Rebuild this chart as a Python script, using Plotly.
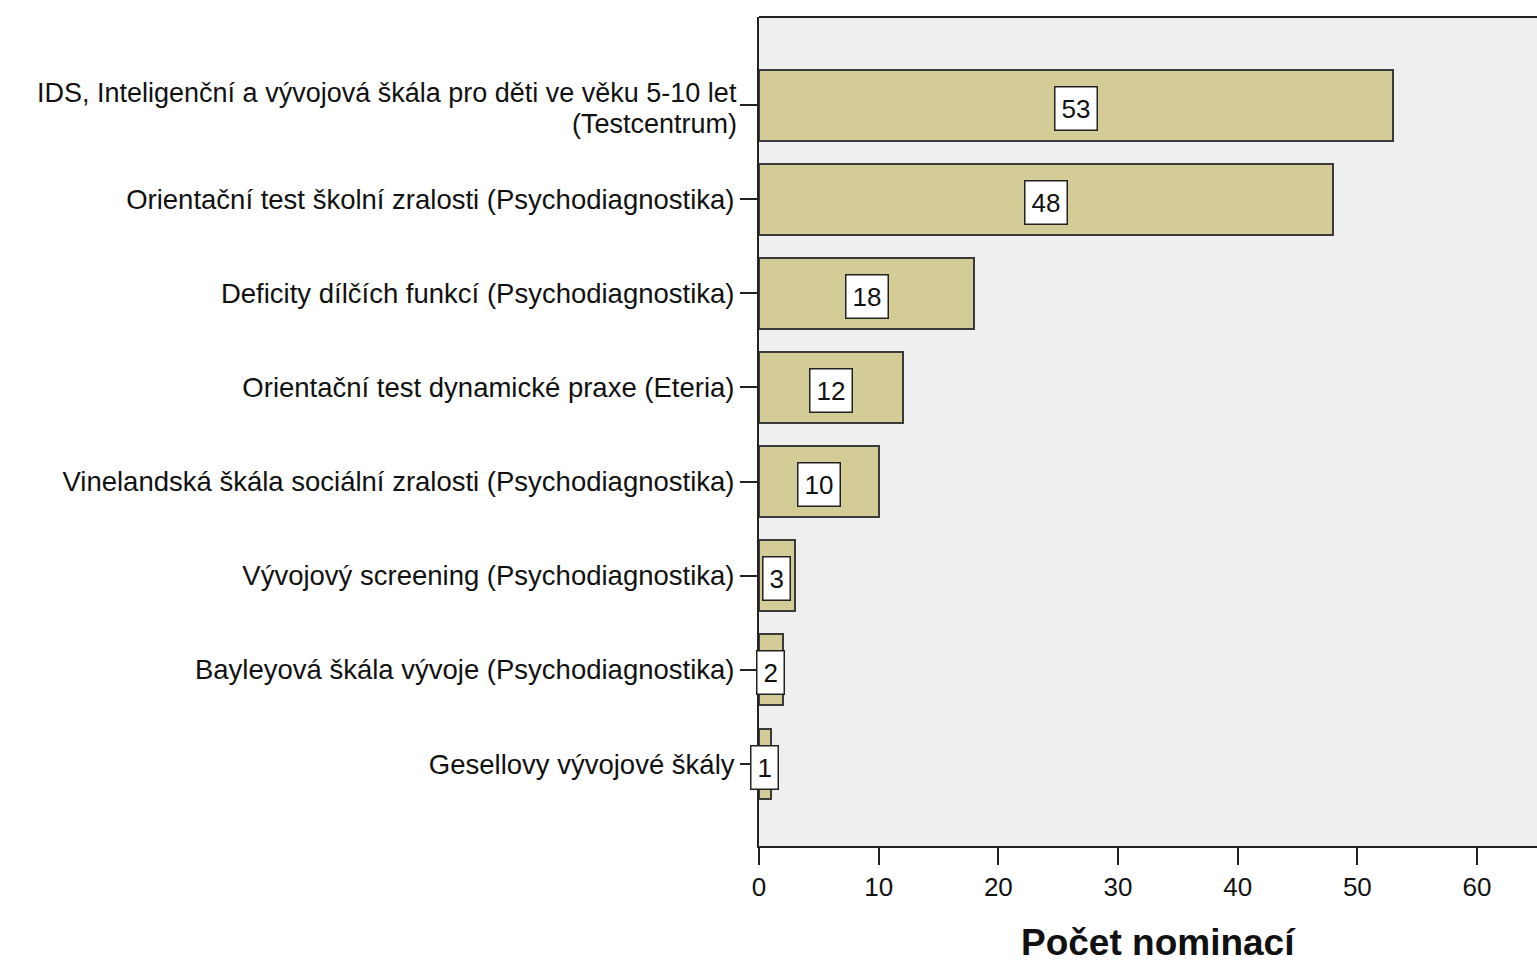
import plotly.graph_objects as go

categories = [
    "IDS, Inteligenční a vývojová škála pro děti ve věku 5-10 let (Testcentrum)",
    "Orientační test školní zralosti (Psychodiagnostika)",
    "Deficity dílčích funkcí (Psychodiagnostika)",
    "Orientační test dynamické praxe (Eteria)",
    "Vinelandská škála sociální zralosti (Psychodiagnostika)",
    "Vývojový screening (Psychodiagnostika)",
    "Bayleyová škála vývoje (Psychodiagnostika)",
    "Gesellovy vývojové škály",
]
counts = [53, 48, 18, 12, 10, 3, 2, 1]
x_ticks = [0, 10, 20, 30, 40, 50, 60]

# long category name is wrapped over two lines
wrapped = {0: ("IDS, Inteligenční a vývojová škála pro děti ve věku 5-10 let", "(Testcentrum)")}

W, H = 1537, 962
ml, mt, mb, mr = 759, 17, 116, 0
font = "Liberation Sans, Arial, sans-serif"
label_size = 27.5

fig = go.Figure()
fig.add_trace(go.Bar(
    x=counts,
    y=list(range(len(categories))),
    orientation="h",
    width=0.754,
    marker=dict(color="#D3CC96", line=dict(color="#3a3a3a", width=2)),
    hoverinfo="skip",
))

# value labels in white boxes at the middle of each bar
for i, v in enumerate(counts):
    fig.add_annotation(
        x=v / 2, y=i, xref="x", yref="y", yshift=-3,
        text=str(v), showarrow=False,
        font=dict(family=font, size=26, color="#111"),
        bgcolor="white", bordercolor="#222", borderwidth=1.5, borderpad=6,
    )

# two-line category label with tight line spacing
for i, (l1, l2) in wrapped.items():
    for txt, dy in ((l1, -0.13), (l2, 0.2)):
        fig.add_annotation(
            x=0, y=i + dy, xref="paper", yref="y", xanchor="right", yanchor="middle",
            xshift=-20, text=txt, showarrow=False,
            font=dict(family=font, size=27, color="#111"),
        )

fig.add_annotation(
    x=(1158 - ml) / (W - ml - mr), y=(H - mb - 943) / (H - mt - mb),
    xref="paper", yref="paper", xanchor="center", yanchor="middle",
    text="<b>Počet nominací</b>", showarrow=False,
    font=dict(family=font, size=37, color="#111"),
)

ticktext = ["" if i in wrapped else c for i, c in enumerate(categories)]

fig.update_layout(
    width=W, height=H,
    margin=dict(l=ml, r=mr, t=mt, b=mb, pad=0),
    paper_bgcolor="white",
    plot_bgcolor="#EFEFEF",
    showlegend=False,
    bargap=0,
    xaxis=dict(
        range=[0, (W - ml - mr) / 11.967],
        tickvals=x_ticks, ticktext=[str(t) for t in x_ticks],
        ticks="outside", ticklen=17, tickwidth=2, tickcolor="#222",
        showline=True, linecolor="#222", linewidth=2,
        showgrid=False, zeroline=False,
        tickfont=dict(family=font, size=26, color="#111"),
        fixedrange=True,
    ),
    yaxis=dict(
        range=[7.871, -0.935],
        tickvals=list(range(len(categories))), ticktext=ticktext,
        ticks="outside", ticklen=17, tickwidth=2, tickcolor="#222",
        showline=True, linecolor="#222", linewidth=2,
        showgrid=False, zeroline=False,
        tickfont=dict(family=font, size=label_size, color="#111"),
        fixedrange=True,
    ),
)

# top frame line of the plot area
fig.add_shape(type="line", xref="paper", yref="paper", x0=0, x1=1, y0=1, y1=1,
              line=dict(color="#222", width=2))

fig.write_html("out.html")
